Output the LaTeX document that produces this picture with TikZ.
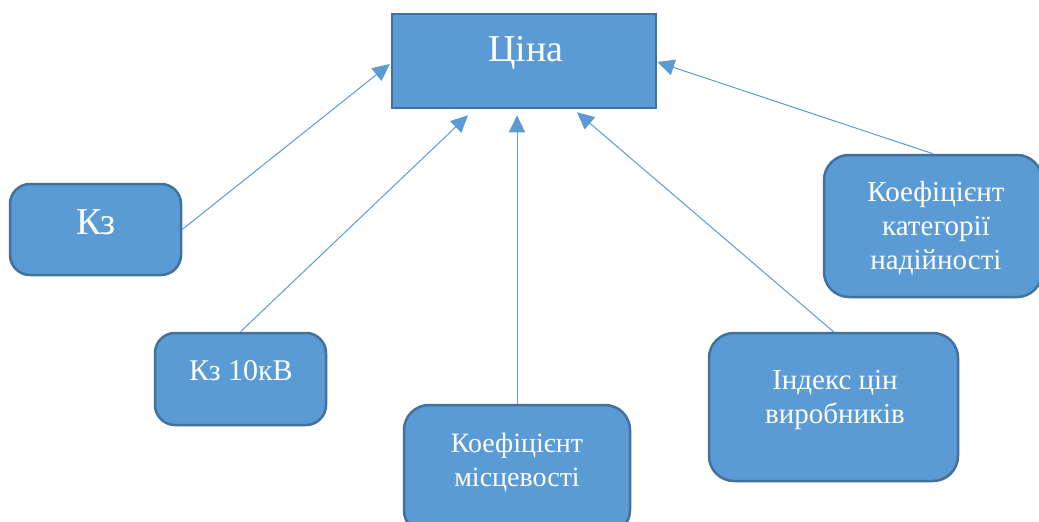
\documentclass[tikz,border=0pt]{standalone}
\usepackage{fontspec}
\setmainfont{Liberation Serif}
\usetikzlibrary{arrows.meta}
\definecolor{boxfill}{HTML}{5B9BD5}
\definecolor{boxline}{HTML}{41719C}
\definecolor{conn}{HTML}{5B9BD5}
\tikzset{
  sqbox/.style={draw=boxline, fill=boxfill, line width=2.5pt, inner sep=0pt},
  rbox/.style={sqbox, rounded corners=20pt},
  txt/.style={text=white, inner sep=0pt, anchor=base},
  arr/.style={draw=conn, line width=1pt, -{Triangle[length=17pt,width=16pt]}},
}
\newcommand{\twoline}[3]{{\fontsize{#1}{34}\selectfont\begin{tabular}[t]{@{}c@{}}#2\end{tabular}}}
\begin{document}
\begin{tikzpicture}[x=1pt,y=-1pt]
\useasboundingbox (0,0) rectangle (1039,522);
\clip (0,0) rectangle (1039,522);
% boxes
\node[sqbox, minimum width=264pt, minimum height=94pt] (cina) at (524,61) {};
\node[rbox, minimum width=171pt, minimum height=91pt] (kz) at (95.5,229.5) {};
\node[rbox, minimum width=171pt, minimum height=92pt] (kz10) at (240.5,379) {};
\node[rbox, rounded corners=25pt, minimum width=226pt, minimum height=130pt] (misc) at (517,470) {};
\node[rbox, rounded corners=25pt, minimum width=218pt, minimum height=142pt] (kat) at (933,226) {};
\node[rbox, rounded corners=25pt, minimum width=249pt, minimum height=148pt] (ind) at (833.5,407) {};
% texts
\node[txt, font=\fontsize{38}{44}\selectfont] (tcina) at (526,61) {Ціна};
\node[txt, font=\fontsize{38}{44}\selectfont] (tkz) at (96,234) {Кз};
\node[txt, font=\fontsize{30}{34}\selectfont] (tkz10) at (241,380) {Кз 10кВ};
\node[txt] (tmisc) at (517,452) {\twoline{28}{Коефіцієнт\\місцевості}{}};
\node[txt] (tkat) at (936,201) {\twoline{29}{Коефіцієнт\\категорії\\надійності}{}};
\node[txt] (tind) at (835,389) {\twoline{29}{Індекс цін\\виробників}{}};
% connectors
\draw[arr] (kz.east) -- ([xshift=-1pt,yshift=-3pt]cina.west);
\draw[arr] (kz10.north) -- ([xshift=-56pt,yshift=-6pt]cina.south);
\draw[arr] (misc.north) -- ([xshift=-7pt,yshift=-6pt]cina.south);
\draw[arr] (ind.north) -- ([xshift=53pt,yshift=-3pt]cina.south);
\draw[arr] (kat.north) -- ([yshift=-1pt]cina.east);
\end{tikzpicture}
\end{document}
